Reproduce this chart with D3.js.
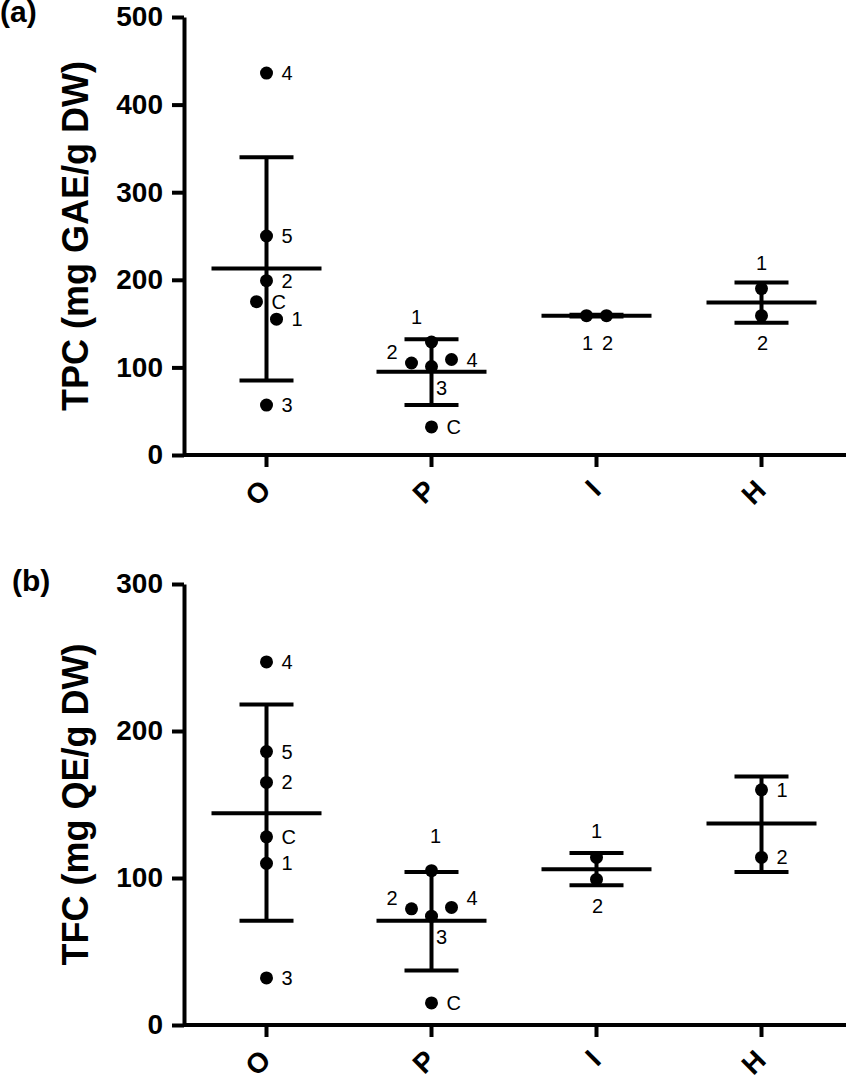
<!DOCTYPE html>
<html>
<head>
<meta charset="utf-8">
<script src="https://cdn.jsdelivr.net/npm/d3@7"></script>
<style>
body { margin: 0; background: #fff; }
svg text { font-family: Arial, "Liberation Sans", sans-serif; }
</style>
</head>
<body>
<svg id="chart" width="846" height="1079"></svg>
<script>
// groups along the x axis
var categories = ["O", "P", "I", "H"];

// (a) TPC, one entry per sample
var tpcGroup   = ["O","O","O","O","O","O","P","P","P","P","P","I","I","H","H"];
var tpcSample  = ["4","5","2","C","1","3","1","2","4","3","C","1","2","1","2"];
var tpcValue   = [436, 250, 199, 175, 155, 57, 129, 105, 109, 101, 32, 159, 159, 190, 159];
var tpcDodge   = [0, 0, 0, -1, 1, 0, 0, -2, 2, 0, 0, -1, 1, 0, 0];
var tpcLabelAt = ["r","r","r","r","r","r","tl","lu","r","br","r","b","b","t","b"];
// mean and mean +/- SD per group
var tpcMean = [213, 95, 159, 174];
var tpcLow  = [85, 57, 158, 151];
var tpcHigh = [340, 132, 160, 197];
var tpcTicks = [0, 100, 200, 300, 400, 500];

// (b) TFC
var tfcGroup   = ["O","O","O","O","O","O","P","P","P","P","P","I","I","H","H"];
var tfcSample  = ["4","5","2","C","1","3","1","2","4","3","C","1","2","1","2"];
var tfcValue   = [247, 186, 165, 128, 110, 32, 105, 79, 80, 74, 15, 114, 99, 160, 114];
var tfcDodge   = [0, 0, 0, 0, 0, 0, 0, -2, 2, 0, 0, 0, 0, 0, 0];
var tfcLabelAt = ["r","r","r","r","r","r","tt","lu","ru","br","r","t","b","r","r"];
var tfcMean = [144, 71, 106, 137];
var tfcLow  = [71, 37, 95, 104];
var tfcHigh = [218, 104, 117, 169];
var tfcTicks = [0, 100, 200, 300];

// where a sample label sits relative to its dot: dx, dy, anchor
var labelOffsets = {
    r:  [15, 0, "start"],
    ru: [15, -9, "start"],
    lu: [-14, -11, "end"],
    t:  [0, -26, "middle"],
    tt: [4, -35, "middle"],
    tl: [-15, -25, "middle"],
    b:  [1, 27, "middle"],
    br: [10, 21, "middle"]
};

var svg = d3.select("#chart");
var x = d3.scaleBand().domain(categories).range([184, 844]).padding(0);
var dodgeStep = 10;

function drawPanel(p) {
    var y = d3.scaleLinear().domain([0, d3.max(p.ticks)]).range([p.bottom, p.top]);
    var g = svg.append("g");

    // panel letter
    g.append("text")
        .attr("x", p.letterX)
        .attr("y", p.letterY)
        .attr("font-size", "30px")
        .attr("font-weight", "bold")
        .text(p.letter);

    // y axis
    var yAxis = g.append("g")
        .attr("transform", "translate(184,0)")
        .call(d3.axisLeft(y).tickValues(p.ticks).tickSize(12).tickSizeOuter(0).tickPadding(9));
    yAxis.selectAll("path, line").attr("stroke", "#000").attr("stroke-width", 4);
    yAxis.selectAll("text")
        .attr("font-size", "28px")
        .attr("font-weight", "bold")
        .attr("fill", "#000");

    // x axis
    var xAxis = g.append("g")
        .attr("transform", "translate(0," + p.bottom + ")")
        .call(d3.axisBottom(x).tickSize(12).tickSizeOuter(0));
    xAxis.select("path.domain").attr("d", "M184,0H846");
    xAxis.selectAll("path, line").attr("stroke", "#000").attr("stroke-width", 4);
    xAxis.selectAll("text")
        .attr("x", 0)
        .attr("y", 0)
        .attr("dy", "0.35em")
        .attr("transform", "translate(-1,30) rotate(-45)")
        .attr("text-anchor", "end")
        .attr("font-size", "28px")
        .attr("font-weight", "bold")
        .attr("fill", "#000");

    // y title
    g.append("text")
        .attr("transform", "translate(88," + ((p.top + p.bottom) / 2) + ") rotate(-90)")
        .attr("text-anchor", "middle")
        .attr("font-size", "36px")
        .attr("font-weight", "bold")
        .text(p.title);

    var cx = function(c) { return x(c) + x.bandwidth() / 2; };

    // mean line and SD bars
    var bars = g.append("g").attr("stroke", "#000").attr("stroke-width", 4);
    categories.forEach(function(c, i) {
        bars.append("line")
            .attr("x1", cx(c)).attr("x2", cx(c))
            .attr("y1", y(p.low[i])).attr("y2", y(p.high[i]));
        bars.append("line")
            .attr("x1", cx(c) - 55).attr("x2", cx(c) + 55)
            .attr("y1", y(p.mean[i])).attr("y2", y(p.mean[i]));
        [p.low[i], p.high[i]].forEach(function(v) {
            bars.append("line")
                .attr("x1", cx(c) - 27).attr("x2", cx(c) + 27)
                .attr("y1", y(v)).attr("y2", y(v));
        });
    });

    var pts = p.values.map(function(v, i) {
        return {
            group: p.group[i], sample: p.sample[i], value: v,
            px: cx(p.group[i]) + p.dodge[i] * dodgeStep,
            at: labelOffsets[p.labelAt[i]]
        };
    });

    g.selectAll("circle.pt").data(pts).enter().append("circle")
        .attr("class", "pt")
        .attr("cx", function(d) { return d.px; })
        .attr("cy", function(d) { return y(d.value); })
        .attr("r", 6.5)
        .attr("fill", "#000");

    g.selectAll("text.lbl").data(pts).enter().append("text")
        .attr("class", "lbl")
        .attr("x", function(d) { return d.px + d.at[0]; })
        .attr("y", function(d) { return y(d.value) + d.at[1]; })
        .attr("dy", "0.35em")
        .attr("text-anchor", function(d) { return d.at[2]; })
        .attr("font-size", "20px")
        .attr("fill", "#000")
        .text(function(d) { return d.sample; });
}

drawPanel({
    letter: "(a)", letterX: 0, letterY: 22,
    title: "TPC (mg GAE/g DW)",
    top: 17, bottom: 455, ticks: tpcTicks,
    group: tpcGroup, sample: tpcSample, values: tpcValue, dodge: tpcDodge, labelAt: tpcLabelAt,
    mean: tpcMean, low: tpcLow, high: tpcHigh
});

drawPanel({
    letter: "(b)", letterX: 12, letterY: 591,
    title: "TFC (mg QE/g DW)",
    top: 584, bottom: 1025, ticks: tfcTicks,
    group: tfcGroup, sample: tfcSample, values: tfcValue, dodge: tfcDodge, labelAt: tfcLabelAt,
    mean: tfcMean, low: tfcLow, high: tfcHigh
});
</script>
</body>
</html>
